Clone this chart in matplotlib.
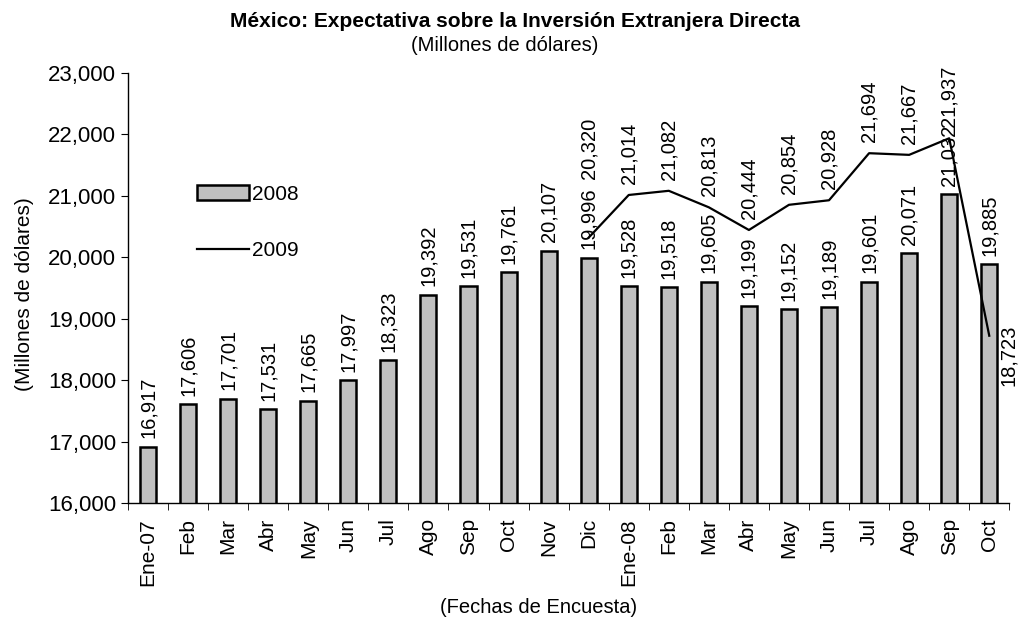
import matplotlib
matplotlib.use("Agg")
import matplotlib.pyplot as plt
import numpy as np
from matplotlib.lines import Line2D
from matplotlib.patches import Patch
from matplotlib.ticker import FuncFormatter

plt.rcParams["font.family"] = ["Liberation Sans", "DejaVu Sans"]

meses = ["Ene-07", "Feb", "Mar", "Abr", "May", "Jun", "Jul", "Ago", "Sep",
         "Oct", "Nov", "Dic", "Ene-08", "Feb", "Mar", "Abr", "May", "Jun",
         "Jul", "Ago", "Sep", "Oct"]
exp_2008 = [16917, 17606, 17701, 17531, 17665, 17997, 18323, 19392, 19531,
            19761, 20107, 19996, 19528, 19518, 19605, 19199, 19152, 19189,
            19601, 20071, 21032, 19885]
# la serie 2009 empieza en la encuesta de diciembre (índice 11)
inicio_2009 = 11
exp_2009 = [20320, 21014, 21082, 20813, 20444, 20854, 20928, 21694, 21667,
            21937, 18723]

GRIS = "#c0c0c0"
fmt = lambda v: f"{v:,.0f}"

fig = plt.figure(figsize=(10.2, 6.21), dpi=100)
ax = fig.add_axes([0.1255, 0.19, 0.864, 0.6925])

x = np.arange(len(meses))
ax.bar(x, exp_2008, width=0.4, color=GRIS, edgecolor="black", linewidth=1.8,
       zorder=2)
x09 = x[inicio_2009:inicio_2009 + len(exp_2009)]
ax.plot(x09, exp_2009, color="black", linewidth=1.6, zorder=3)

for xi, v in zip(x, exp_2008):
    ax.annotate(fmt(v), (xi, v), xytext=(0, 6), textcoords="offset points",
                rotation=90, ha="center", va="bottom", fontsize=14.5)

# ajustes manuales de etiquetas de la línea (como en el original)
ultimo = len(exp_2009) - 1
nudge = {0: (0, 42), ultimo: (7, 8)}
for i, (xi, v) in enumerate(zip(x09, exp_2009)):
    dx, dy = nudge.get(i, (0, 8))
    ha, va = ("left", "top") if i == ultimo else ("center", "bottom")
    ax.annotate(fmt(v), (xi, v), xytext=(dx, dy), textcoords="offset points",
                rotation=90, ha=ha, va=va, fontsize=14.5)

ax.set_xlim(-0.5, len(meses) - 0.5)
ax.set_ylim(16000, 23000)
ax.set_yticks(np.arange(16000, 23001, 1000))
ax.yaxis.set_major_formatter(FuncFormatter(lambda v, p: fmt(v)))
ax.set_xticks(x)
ax.set_xticklabels(meses, rotation=90)
ax.set_xticks(np.arange(-0.5, len(meses)), minor=True)
ax.tick_params(axis="x", which="major", length=0, labelsize=15, pad=11)
ax.tick_params(axis="x", which="minor", length=5, direction="out")
ax.tick_params(axis="y", length=5, direction="out", labelsize=16)
for s in ("top", "right"):
    ax.spines[s].set_visible(False)
ax.spines["left"].set_linewidth(1.0)
ax.spines["bottom"].set_linewidth(1.0)

handles = [Patch(facecolor=GRIS, edgecolor="black", linewidth=1.8),
           Line2D([], [], color="black", linewidth=1.6)]
ax.legend(handles, ["2008", "2009"], loc="upper left",
          bbox_to_anchor=(0.057, 0.784), frameon=False, fontsize=15,
          handlelength=2.5, handletextpad=0.15, labelspacing=1.8)

fig.text(0.505, 0.966, "México: Expectativa sobre la Inversión Extranjera Directa",
         ha="center", va="center", fontsize=15, fontweight="bold")
fig.text(0.495, 0.926, "(Millones de dólares)", ha="center", va="center",
         fontsize=14.5)
fig.text(0.024, 0.527, "(Millones de dólares)", rotation=90, ha="center",
         va="center", fontsize=15)
fig.text(0.528, 0.021, "(Fechas de Encuesta)", ha="center", va="center",
         fontsize=14.5)

fig.savefig("out.png", dpi=100, facecolor="white")
